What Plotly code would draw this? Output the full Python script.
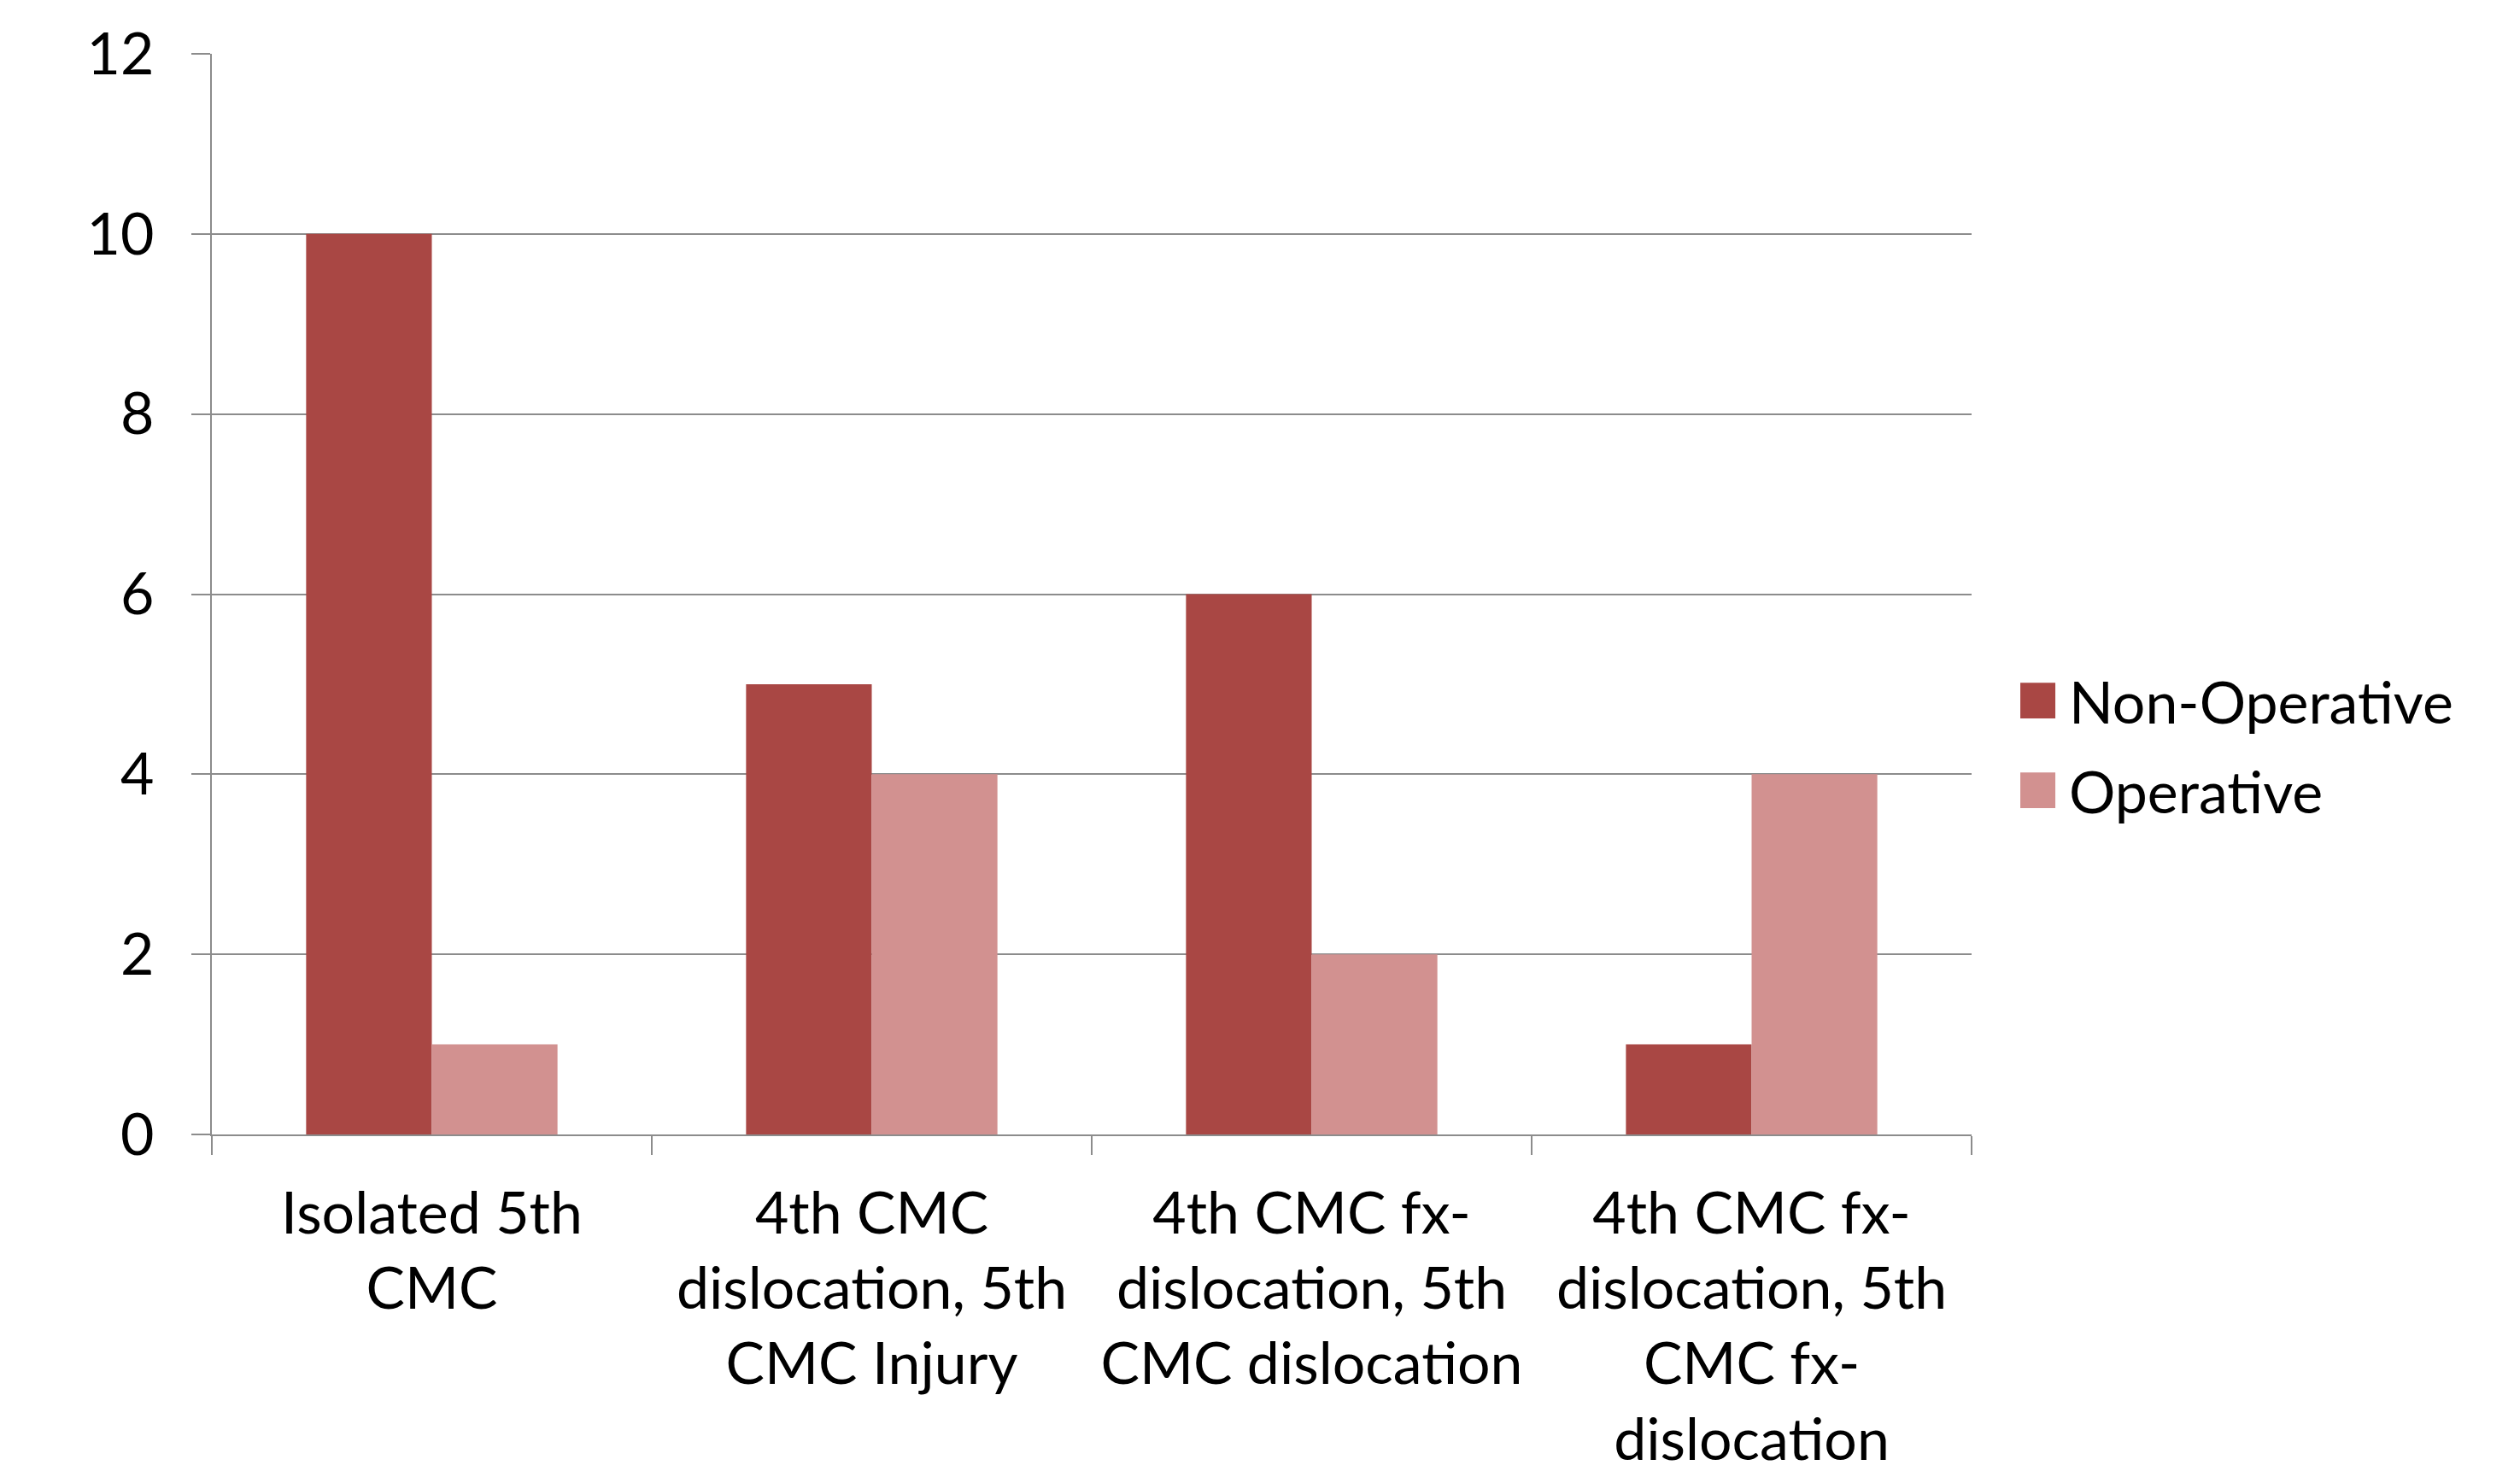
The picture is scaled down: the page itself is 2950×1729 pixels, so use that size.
import plotly.graph_objects as go

categories = [
    "Isolated 5th<br>CMC",
    "4th CMC<br>dislocation, 5th<br>CMC Injury",
    "4th CMC fx-<br>dislocation, 5th<br>CMC dislocation",
    "4th CMC fx-<br>dislocation, 5th<br>CMC fx-<br>dislocation",
]
series_names = ["Non-Operative", "Operative"]
non_operative = [10, 5, 6, 1]
operative = [1, 4, 2, 4]
series_colors = ["#A94744", "#D29190"]
y_ticks = [0, 2, 4, 6, 8, 10, 12]

FONT = "Lato, 'Open Sans', sans-serif"
GRID = "#8C8C8C"

fig = go.Figure()
for name, vals, col in zip(series_names, [non_operative, operative], series_colors):
    fig.add_trace(go.Bar(x=categories, y=vals, name=name, marker_color=col,
                         marker_line_width=0, showlegend=False))

fig.update_layout(
    width=2950, height=1729,
    margin=dict(l=240, r=650, t=45, b=409),
    paper_bgcolor="white", plot_bgcolor="white",
    barmode="group", bargap=0.4286, bargroupgap=0,
    font=dict(family=FONT, size=64, color="black"),
)
fig.update_xaxes(
    showline=True, linecolor=GRID, linewidth=2,
    ticks="outside", tickson="boundaries", ticklen=22, tickcolor=GRID, tickwidth=2,
    showgrid=False, tickfont=dict(size=68), tickangle=0, ticklabelstandoff=32,
)
fig.update_yaxes(
    range=[0, 12], tickvals=y_ticks, showline=True, linecolor=GRID, linewidth=2,
    ticks="outside", ticklen=22, tickcolor=GRID, tickwidth=2,
    showgrid=True, gridcolor=GRID, gridwidth=2, zeroline=False,
    tickfont=dict(size=68), ticklabelstandoff=30,
)

# legend drawn manually
legend_y = [0.4015, 0.3185]
for name, col, ly in zip(series_names, series_colors, legend_y):
    fig.add_shape(type="rect", xref="paper", yref="paper",
                  x0=1.0277, x1=1.0476, y0=ly - 0.0165, y1=ly + 0.0165,
                  fillcolor=col, line_width=0)
    fig.add_annotation(xref="paper", yref="paper", x=1.0545, y=ly, text=name,
                       showarrow=False, xanchor="left", yanchor="middle",
                       font=dict(family=FONT, size=68, color="black"))

fig.write_html("out.html")
